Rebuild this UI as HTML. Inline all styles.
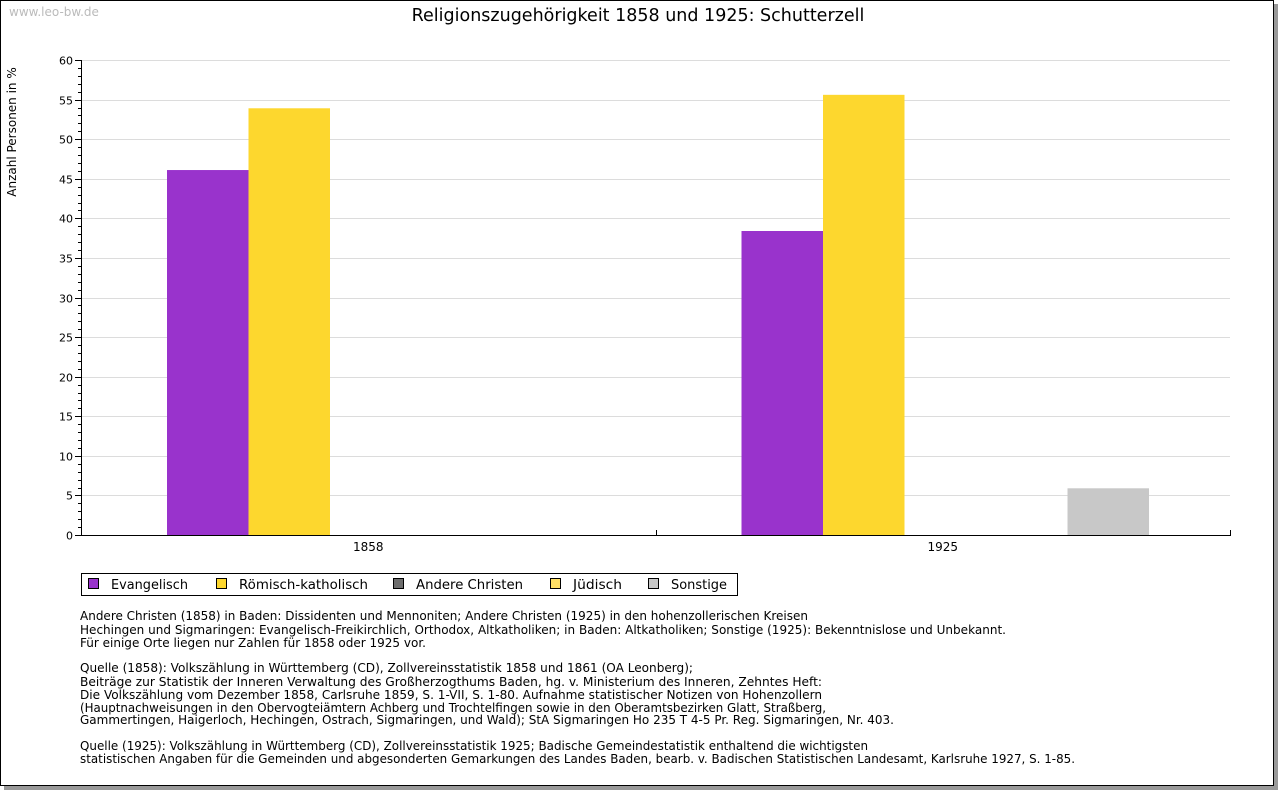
<!DOCTYPE html>
<html><head><meta charset="utf-8">
<style>
html,body{margin:0;padding:0;background:#fff;width:1280px;height:791px;overflow:hidden}
svg{display:block;font-family:"DejaVu Sans","Liberation Sans",sans-serif}
</style></head>
<body>
<svg id="chart" width="1280" height="791">
  <rect x="4" y="4" width="1274" height="786" fill="#999"/>
  <rect x="0.5" y="0.5" width="1273" height="785" fill="#fff" stroke="#000"/>
  <text x="9" y="16" font-size="12" fill="#bbb">www.leo-bw.de</text>
  <text x="638" y="21" font-size="17.5" text-anchor="middle" fill="#000">Religionszugehörigkeit 1858 und 1925: Schutterzell</text>
  <text transform="translate(16,132) rotate(-90)" font-size="12" text-anchor="middle">Anzahl Personen in %</text>
  <g id="grid"></g><g id="bars"></g><g id="axes"></g>
  <g id="legend"></g>
  <g id="notes" font-size="12" fill="#000"></g>
</svg>
<script>
const categories = ["1858", "1925"];
const seriesNames = ["Evangelisch", "Römisch-katholisch", "Andere Christen", "Jüdisch", "Sonstige"];
const seriesColors = ["#9933cc", "#fdd72e", "#6e6e6e", "#ffe066", "#c8c8c8"];
const evangelisch = [46.1, 38.4];
const katholisch = [53.9, 55.6];
const andereChristen = [0, 0];
const juedisch = [0, 0];
const sonstige = [0, 5.9];
const yTicks = [0, 5, 10, 15, 20, 25, 30, 35, 40, 45, 50, 55, 60];
const notes = [
 "Andere Christen (1858) in Baden: Dissidenten und Mennoniten; Andere Christen (1925) in den hohenzollerischen Kreisen",
 "Hechingen und Sigmaringen: Evangelisch-Freikirchlich, Orthodox, Altkatholiken; in Baden: Altkatholiken; Sonstige (1925): Bekenntnislose und Unbekannt.",
 "Für einige Orte liegen nur Zahlen für 1858 oder 1925 vor.",
 "",
 "Quelle (1858): Volkszählung in Württemberg (CD), Zollvereinsstatistik 1858 und 1861 (OA Leonberg);",
 "Beiträge zur Statistik der Inneren Verwaltung des Großherzogthums Baden, hg. v. Ministerium des Inneren, Zehntes Heft:",
 "Die Volkszählung vom Dezember 1858, Carlsruhe 1859, S. 1-VII, S. 1-80. Aufnahme statistischer Notizen von Hohenzollern",
 "(Hauptnachweisungen in den Obervogteiämtern Achberg und Trochtelfingen sowie in den Oberamtsbezirken Glatt, Straßberg,",
 "Gammertingen, Haigerloch, Hechingen, Ostrach, Sigmaringen, und Wald); StA Sigmaringen Ho 235 T 4-5 Pr. Reg. Sigmaringen, Nr. 403.",
 "",
 "Quelle (1925): Volkszählung in Württemberg (CD), Zollvereinsstatistik 1925; Badische Gemeindestatistik enthaltend die wichtigsten",
 "statistischen Angaben für die Gemeinden und abgesonderten Gemarkungen des Landes Baden, bearb. v. Badischen Statistischen Landesamt, Karlsruhe 1927, S. 1-85."
];
const noteWidths = [728,926,346,0,613,742,742,746,814,0,788,995];
const series = [evangelisch, katholisch, andereChristen, juedisch, sonstige];

const NS = "http://www.w3.org/2000/svg";
const X0 = 81, X1 = 1230, Y0 = 535, Y1 = 60, YMAX = 60;
const yScale = v => Y0 - (v / YMAX) * (Y0 - Y1);
const catW = (X1 - X0) / categories.length;
const barW = 81.5;
const xBar = (c, s) => X0 + c * catW + 86 + s * barW;
function mk(tag, attrs, parent) { const e = document.createElementNS(NS, tag); for (const k in attrs) e.setAttribute(k, attrs[k]); parent.appendChild(e); return e; }
const grid = document.getElementById('grid'), bars = document.getElementById('bars'), axes = document.getElementById('axes');

yTicks.forEach(t => {
  const y = Math.round(yScale(t)) + 0.5;
  if (t > 0) { const g = mk('line', {x1: X0, x2: X1, y1: y, y2: y, stroke: '#dcdcdc'}, grid);
    
     }
  const l = mk('text', {x: 73, y: y + 4, 'font-size': 11, 'text-anchor': 'end'}, axes);
  l.textContent = t;
  
  
});
for (let v = 0; v <= YMAX; v++) {
  const y = Math.round(yScale(v)) + 0.5;
  mk('line', {x1: v % 5 === 0 ? X0 - 6 : X0 - 3, x2: X0, y1: y, y2: y, stroke: '#000'}, axes);
}
series.forEach((arr, s) => arr.forEach((v, c) => {
  if (v <= 0) return;
  const r = mk('rect', {x: xBar(c, s), y: yScale(v), width: barW, height: Y0 - yScale(v), fill: seriesColors[s]}, bars);
  
  
}));
mk('line', {x1: X0 + 0.5, x2: X0 + 0.5, y1: Y1, y2: Y0, stroke: '#000'}, axes);
mk('line', {x1: X0, x2: X1 + 1, y1: Y0 + 0.5, y2: Y0 + 0.5, stroke: '#000'}, axes);
for (let c = 1; c <= categories.length; c++) {
  const x = Math.round(X0 + c * catW) + 0.5;
  mk('line', {x1: x, x2: x, y1: Y0 - 5, y2: Y0, stroke: '#000'}, axes);
}
categories.forEach((c, i) => {
  const t = mk('text', {x: X0 + (i + 0.5) * catW, y: 551, 'font-size': 12, 'text-anchor': 'middle'}, axes);
  t.textContent = c;
  
  
});

const legend = document.getElementById('legend');
const lb = mk('rect', {x: 81.5, y: 573.5, width: 656, height: 22, fill: '#fff', stroke: '#000'}, legend);


const lx = [88, 216, 393, 550, 648];
const lw = [77, 129, 107, 49, 56];
seriesNames.forEach((n, i) => {
  const sq = mk('rect', {x: lx[i] + 0.5, y: 578.5, width: 10, height: 10, fill: seriesColors[i], stroke: '#000'}, legend);
  
  
  const t = mk('text', {x: lx[i] + 23, y: 589, 'font-size': 13, textLength: lw[i], lengthAdjust: 'spacingAndGlyphs'}, legend);
  t.textContent = n;
  
  
});

const ng = document.getElementById('notes');
const noteY = [620,634,647,0,672,686,699,712,724,0,750,763];
notes.forEach((n, i) => {
  if (!n) return;
  const t = mk('text', {x: 80, y: noteY[i], textLength: noteWidths[i], lengthAdjust: 'spacingAndGlyphs'}, ng);
  t.textContent = n;
  
  
});
</script>
</body></html>
